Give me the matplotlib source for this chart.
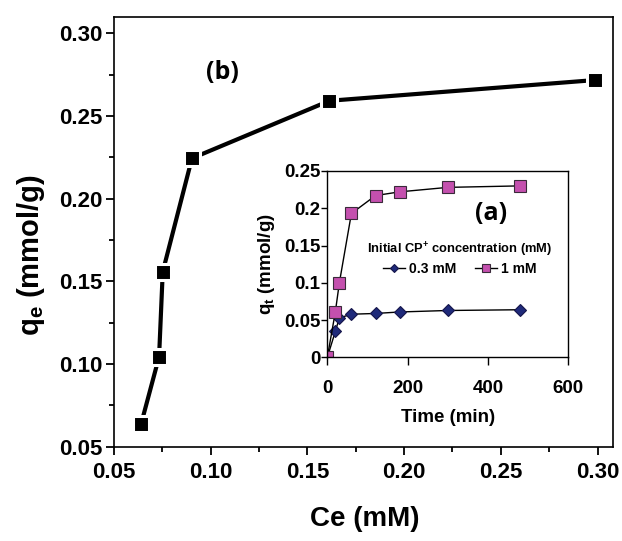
# Isoterma (b) con cinetica (a) como grafica insertada

import matplotlib.pyplot as plt
from matplotlib.ticker import MultipleLocator, FuncFormatter

# Datos de la isoterma (b)
ce = [0.0640, 0.0733, 0.0752, 0.0903, 0.1614, 0.2985]
qe = [0.0637, 0.1044, 0.1558, 0.2244, 0.2592, 0.2717]

# Datos de la cinetica (a)
tiempo = [0, 20, 30, 60, 120, 180, 300, 480]
qt_03 = [0, 0.035, 0.053, 0.058, 0.059, 0.061, 0.063, 0.064]
qt_1 = [0, 0.061, 0.100, 0.193, 0.217, 0.222, 0.228, 0.230]

xticks_b = [0.05, 0.10, 0.15, 0.20, 0.25, 0.30]
yticks_b = [0.05, 0.10, 0.15, 0.20, 0.25, 0.30]
xticks_a = [0, 200, 400, 600]
yticks_a = [0, 0.05, 0.1, 0.15, 0.2, 0.25]

# Fuente
plt.rcParams['font.family'] = ['Liberation Sans', 'DejaVu Sans']
plt.rcParams['font.weight'] = 'bold'
plt.rcParams['axes.labelweight'] = 'bold'
plt.rcParams['mathtext.fontset'] = 'custom'
plt.rcParams['mathtext.rm'] = 'Liberation Sans:bold'
plt.rcParams['mathtext.it'] = 'Liberation Sans:bold'
plt.rcParams['mathtext.bf'] = 'Liberation Sans:bold'

fig = plt.figure(figsize=(6.22, 5.41), dpi=100)

# ---- grafica principal (b)
ax = fig.add_axes([0.1833, 0.1743, 0.8022, 0.7947])
ax.plot(ce, qe, '-s', color='black', linewidth=3, markersize=11.3,
        markerfacecolor='black', markeredgecolor='white', markeredgewidth=2.2)
ax.set_xlim(0.05, 0.308)
ax.set_ylim(0.05, 0.31)
ax.set_xticks(xticks_b)
ax.set_yticks(yticks_b)
ax.xaxis.set_minor_locator(MultipleLocator(0.025))
ax.yaxis.set_minor_locator(MultipleLocator(0.025))
ax.xaxis.set_major_formatter(FuncFormatter(lambda v, p: '%.2f' % v))
ax.yaxis.set_major_formatter(FuncFormatter(lambda v, p: '%.2f' % v))
ax.tick_params(which='major', direction='out', length=6, width=1.3, labelsize=16, pad=2)
ax.tick_params(axis='x', which='major', pad=5)
ax.tick_params(which='minor', direction='out', length=3.5, width=1.3)
for s in ax.spines.values():
    s.set_linewidth(1.2)

fig.text(365 / 622, 1 - 519 / 541, 'Ce (mM)', fontsize=20, ha='center', va='center')
fig.text(31 / 622, 1 - 255 / 541, 'q$_{e}$ (mmol/g)', fontsize=21, rotation=90,
         ha='center', va='center')
fig.text(222 / 622, 1 - 73 / 541, '(b)', fontsize=18, ha='center', va='center',
         family=['Open Sans', 'DejaVu Sans'], fontweight='bold')

# ---- grafica insertada (a)
ax2 = fig.add_axes([0.5262, 0.3392, 0.3875, 0.3448])
ax2.plot(tiempo, qt_03, '-D', color='black', linewidth=1, markersize=6,
         markerfacecolor='#1F2A7A', markeredgecolor='#15154a', markeredgewidth=0.8,
         label='0.3 mM')
ax2.plot(tiempo, qt_1, '-s', color='black', linewidth=1, markersize=8.3,
         markerfacecolor='#C450AE', markeredgecolor='#3a2a3a', markeredgewidth=0.8,
         label='1 mM')
ax2.set_xlim(0, 600)
ax2.set_ylim(0, 0.25)
ax2.set_xticks(xticks_a)
ax2.set_yticks(yticks_a)
ax2.yaxis.set_major_formatter(FuncFormatter(lambda v, p: '%g' % round(v, 2)))
ax2.tick_params(axis='x', direction='out', length=6, width=1, labelsize=13.5, pad=10)
ax2.tick_params(axis='y', direction='out', length=4, width=1, labelsize=13.5, pad=1)
for s in ax2.spines.values():
    s.set_linewidth(1)
ax2.set_xlabel('Time (min)', fontsize=13.5, fontweight='bold', labelpad=9)
ax2.set_ylabel('q$_{t}$ (mmol/g)', fontsize=13.5, fontweight='bold', labelpad=5)
ax2.text(0.68, 0.77, '(a)', transform=ax2.transAxes, fontsize=18,
         ha='center', va='center', family=['Open Sans', 'DejaVu Sans'], fontweight='bold')

leg = ax2.legend(title='Initial CP$^{+}$ concentration (mM)', ncol=2, frameon=False,
                 loc='center', bbox_to_anchor=(0.55, 0.53), fontsize=10,
                 title_fontsize=9.3, handlelength=1.6, handletextpad=0.3,
                 columnspacing=1.3, markerscale=0.75, borderpad=0.2, labelspacing=0.2)
leg.get_title().set_fontweight('bold')

plt.savefig('out.png', dpi=100)
